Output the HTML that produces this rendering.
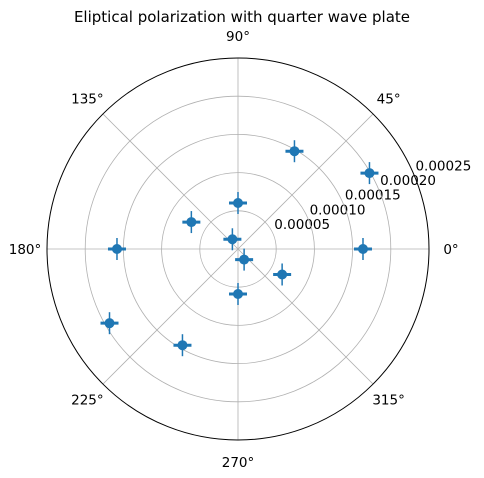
<!DOCTYPE html>
<html><head><meta charset="utf-8"><style>
body{margin:0;background:#fff;}
svg{display:block;font-family:"DejaVu Sans","Liberation Sans",sans-serif;}
</style></head><body>
<svg id="chart" width="484" height="478" viewBox="0 0 484 478">
<text x="242" y="22" font-size="15" text-anchor="middle">Eliptical polarization with quarter wave plate</text>
<g id="grid"></g>
<g id="marks"></g>
</svg>
<script>
const anglesDeg = [0,30,60,90,120,150,180,210,240,270,300,330];
const radii = [0.0001636,0.0001987,0.0001478,0.0000602,0.0000147,0.0000705,0.0001584,0.0001942,0.0001454,0.0000589,0.000016,0.0000667];
const rTicks = [0.00005,0.00010,0.00015,0.00020,0.00025];
const rTickLabels = ["0.00005","0.00010","0.00015","0.00020","0.00025"];
const thetaTicks = [0,45,90,135,180,225,270,315];
const rMax = 0.00025;
const cx=238, cy=249, R=191;
const NS='http://www.w3.org/2000/svg';
function rScale(v){return v/rMax*R;}
function pos(deg,r){const a=deg*Math.PI/180;return [cx+r*Math.cos(a), cy-r*Math.sin(a)];}
function mk(tag,attrs,parent){const e=document.createElementNS(NS,tag);for(const k in attrs)e.setAttribute(k,attrs[k]);parent.appendChild(e);return e;}
const grid=document.getElementById('grid'), marks=document.getElementById('marks');
rTicks.forEach((t,i)=>{
  if(i<rTicks.length-1){
    const c=mk('circle',{cx:cx,cy:cy,r:rScale(t),fill:'none',stroke:'#b0b0b0','stroke-width':0.8},grid);
    
    
  }
  const p=pos(22.5,rScale(t));
  const tx=mk('text',{x:p[0]+1,y:p[1]-5.5,'font-size':13.5},grid);
  tx.textContent=rTickLabels[i];
  
  
});
thetaTicks.forEach(d=>{
  const p=pos(d,R);
  const l=mk('line',{x1:cx,y1:cy,x2:p[0],y2:p[1],stroke:'#b0b0b0','stroke-width':0.8},grid);
  
  
  const q=pos(d,R+22);
  const tx=mk('text',{x:q[0],y:q[1]+5,'font-size':13.5,'text-anchor':'middle'},grid);
  tx.textContent=d+'°';
  
  
});
const outer=mk('circle',{cx:cx,cy:cy,r:R,fill:'none',stroke:'#000','stroke-width':1},grid);


anglesDeg.forEach((d,i)=>{
  const p=pos(d,rScale(radii[i]));
  const g=mk('g',{},marks);
  
  
  mk('line',{x1:p[0],y1:p[1]-11,x2:p[0],y2:p[1]+11,stroke:'#1f77b4','stroke-width':1.5},g);
  mk('line',{x1:p[0]-9,y1:p[1],x2:p[0]+9,y2:p[1],stroke:'#1f77b4','stroke-width':3},g);
  mk('circle',{cx:p[0],cy:p[1],r:5,fill:'#1f77b4'},g);
});
</script>
</body></html>
